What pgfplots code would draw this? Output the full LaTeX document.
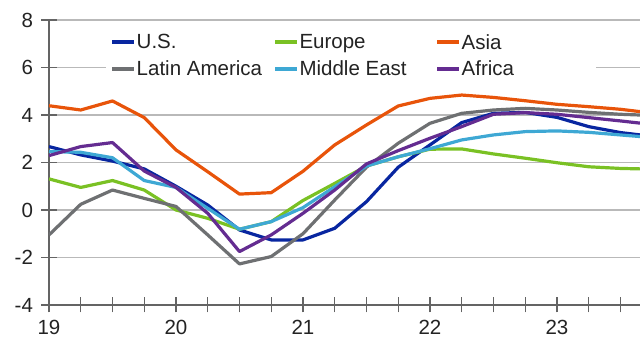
\documentclass[border=0pt]{standalone}
\usepackage{pgfplots}
\usepackage{pgfplotstable}
\pgfplotsset{compat=1.18}
\usepackage{fontspec}
\setmainfont{Liberation Sans}

\definecolor{usblue}{RGB}{8,38,160}
\definecolor{eurgreen}{RGB}{122,193,36}
\definecolor{asiaorange}{RGB}{232,84,10}
\definecolor{latgray}{RGB}{110,112,114}
\definecolor{meblue}{RGB}{62,168,212}
\definecolor{afpurple}{RGB}{100,44,145}
\definecolor{gridgray}{RGB}{185,185,185}
\definecolor{axisgray}{RGB}{100,100,100}
\definecolor{labelgray}{RGB}{35,35,35}

% Quarterly growth by region, %
\pgfplotstableread{
x      us     eur    asia   lat    me     af
19.00  2.67   1.31   4.39  -1.05   2.46   2.29
19.25  2.32   0.95   4.21   0.24   2.43   2.67
19.50  2.06   1.24   4.59   0.84   2.20   2.84
19.75  1.73   0.84   3.89   0.49   1.24   1.64
20.00  1.00   0.00   2.53   0.15   0.95   0.95
20.25  0.21  -0.35   1.61  -1.05   0.07  -0.14
20.50 -0.84  -0.81   0.67  -2.27  -0.81  -1.75
20.75 -1.26  -0.49   0.73  -1.96  -0.49  -1.05
21.00 -1.26   0.40   1.63  -1.00   0.10  -0.14
21.25 -0.77   1.12   2.74   0.42   0.98   0.84
21.50  0.35   1.85   3.58   1.80   1.85   1.94
21.75  1.80   2.24   4.38   2.81   2.24   2.50
22.00  2.74   2.56   4.70   3.65   2.58   3.02
22.25  3.68   2.57   4.84   4.07   2.95   3.51
22.50  4.07   2.36   4.74   4.21   3.16   4.03
22.75  4.11   2.18   4.60   4.28   3.30   4.10
23.00  3.90   1.99   4.45   4.21   3.33   4.03
23.25  3.51   1.82   4.35   4.11   3.27   3.89
23.50  3.26   1.75   4.24   4.03   3.16   3.75
23.75  3.10   1.72   4.08   3.98   3.05   3.60
}\regions

\begin{document}
\begin{tikzpicture}
\useasboundingbox (-49pt,-34pt) rectangle (591pt,305pt);
\begin{axis}[
  at={(0pt,0pt)}, anchor=south west,
  scale only axis, width=591pt, height=285pt,
  xmin=19, xmax=23.654, ymin=-4, ymax=8,
  axis x line=bottom, axis y line=left,
  x axis line style={-, draw=axisgray, line width=1.4pt},
  y axis line style={-, draw=axisgray, line width=1.4pt},
  xtick={19,20,21,22,23}, xticklabels={19,20,21,22,23},
  minor xtick={19.25,19.5,19.75,20.25,20.5,20.75,21.25,21.5,21.75,22.25,22.5,22.75,23.25,23.5},
  ytick={-4,-2,0,2,4,6,8}, yticklabels={-4,-2,0,2,4,6,8},
  ymajorgrids, grid style={gridgray, line width=1.3pt},
  major tick length=15pt, minor tick length=15pt, tick align=center,
  tick style={axisgray, line width=1.3pt},
  ticklabel style={font=\fontsize{20.5}{24}\selectfont, text=labelgray},
  yticklabel style={xshift=-5pt},
  xticklabel style={yshift=-4pt},
  legend columns=3,
  legend style={at={(0.0955,0.9614)}, anchor=north west, draw=none, fill=white,
    inner xsep=4.7pt, inner ysep=3pt, row sep=10pt, column sep=0pt,
    font=\fontsize{20.5}{24}\selectfont, text=labelgray,
    nodes={inner sep=0pt}},
  legend image code/.code={\draw[#1, line width=3.8pt] (0pt,0pt) -- (22pt,0pt);},
  every axis plot/.append style={line width=3.2pt, line join=round},
]
\addplot[usblue] table[x=x, y=us] {\regions};
\addlegendentry{\makebox[137pt][l]{\hspace{0.6pt}U.S.}}
\addplot[eurgreen] table[x=x, y=eur] {\regions};
\addlegendentry{\makebox[136.3pt][l]{\hspace{0.6pt}Europe}}
\addplot[asiaorange] table[x=x, y=asia] {\regions};
\addlegendentry{\makebox[130pt][l]{\hspace{0.6pt}Asia}}
\addplot[latgray] table[x=x, y=lat] {\regions};
\addlegendentry{\makebox[137pt][l]{\hspace{0.6pt}Latin America}}
\addplot[meblue] table[x=x, y=me] {\regions};
\addlegendentry{\makebox[136.3pt][l]{\hspace{0.6pt}Middle East}}
\addplot[afpurple] table[x=x, y=af] {\regions};
\addlegendentry{\makebox[130pt][l]{\hspace{0.6pt}Africa}}
\end{axis}
\end{tikzpicture}
\end{document}
